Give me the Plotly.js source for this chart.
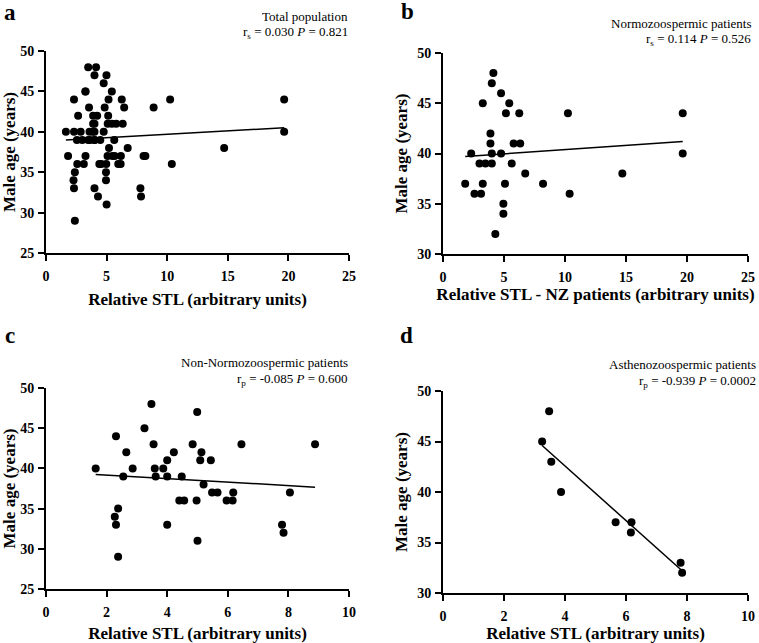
<!DOCTYPE html>
<html>
<head>
<meta charset="utf-8">
<script src="https://cdn.plot.ly/plotly-3.0.1.min.js"></script>
<style>
  body { margin: 0; padding: 0; background: white; }
  #myChart { width: 759px; height: 643px; }
</style>
</head>
<body>
<div id="myChart"></div>
<script>
// panel a - total population (values read row by row, age 48 down to 29)
var total_stl = [3.48, 4.13, 4.0, 4.99, 4.76, 3.26, 3.25, 5.43, 2.31, 5.16, 6.25, 10.24, 19.65,
  3.55, 4.84, 6.45, 8.88, 2.65, 3.89, 4.22, 5.13, 3.89, 4.0, 5.09, 5.44, 5.79, 6.33,
  1.64, 2.31, 2.86, 3.59, 3.87, 4.0, 4.76, 19.65, 2.55, 2.99, 3.48, 3.62, 4.0, 4.0, 4.48, 5.63,
  5.2, 6.74, 14.7, 1.82, 3.26, 5.08, 5.48, 5.66, 6.18, 8.05, 8.2,
  2.58, 3.12, 4.4, 4.56, 4.97, 5.96, 6.16, 10.38, 2.38, 4.95, 2.27, 4.95, 2.31, 4.0, 7.79, 4.29, 7.84, 5.0, 2.38];
var total_age = [48, 48, 47, 47, 46, 45, 45, 45, 44, 44, 44, 44, 44,
  43, 43, 43, 43, 42, 42, 42, 42, 41, 41, 41, 41, 41, 41,
  40, 40, 40, 40, 40, 40, 40, 40, 39, 39, 39, 39, 39, 39, 39, 39,
  38, 38, 38, 37, 37, 37, 37, 37, 37, 37, 37,
  36, 36, 36, 36, 36, 36, 36, 36, 35, 35, 34, 34, 33, 33, 33, 32, 32, 31, 29];

// panel b - normozoospermic
var nz_stl = [4.13, 4.0, 4.76, 3.26, 5.43, 5.16, 6.25, 10.24, 19.65, 3.89, 3.89, 5.79, 6.33,
  2.31, 4.0, 4.76, 19.65, 2.99, 3.48, 4.0, 5.63, 6.74, 14.7, 1.82, 3.26, 5.08, 8.2,
  2.58, 3.12, 10.38, 4.95, 4.95, 4.29];
var nz_age = [48, 47, 46, 45, 45, 44, 44, 44, 44, 42, 41, 41, 41,
  40, 40, 40, 40, 39, 39, 39, 39, 38, 38, 37, 37, 37, 37,
  36, 36, 36, 35, 34, 32];

// panel c - non-normozoospermic
var nonnz_stl = [1.64, 2.31, 2.27, 2.31, 2.38, 2.38, 2.55, 2.65, 2.86, 3.25, 3.48, 3.55, 3.59, 3.62,
  3.87, 4.0, 4.0, 4.0, 4.22, 4.48, 4.4, 4.56, 4.84, 4.99, 4.97, 5.0, 5.13, 5.09, 5.2, 5.44,
  5.48, 5.66, 5.96, 6.18, 6.16, 6.45, 7.79, 7.84, 8.05, 8.88];
var nonnz_age = [40, 44, 34, 33, 35, 29, 39, 42, 40, 45, 48, 43, 40, 39,
  40, 41, 39, 33, 42, 39, 36, 36, 43, 47, 36, 31, 42, 41, 38, 41,
  37, 37, 36, 37, 36, 43, 33, 32, 37, 43];

// panel d - asthenozoospermic
var astheno_stl = [3.25, 3.48, 3.55, 3.87, 5.66, 6.18, 6.16, 7.79, 7.84];
var astheno_age = [45, 48, 43, 40, 37, 37, 36, 33, 32];

// regression line end points as drawn
var fit_a_x = [1.64, 19.65], fit_a_y = [39.0, 40.5];
var fit_b_x = [1.82, 19.65], fit_b_y = [39.7, 41.2];
var fit_c_x = [1.64, 8.88], fit_c_y = [39.24, 37.67];
var fit_d_x = [3.25, 7.84], fit_d_y = [44.6, 32.2];

var panel_titles = ['Total population', 'Normozoospermic patients',
  'Non-Normozoospermic patients', 'Asthenozoospermic patients'];
var panel_stats = ['r<sub>s</sub> = 0.030 <i>P</i> = 0.821', 'r<sub>s</sub> = 0.114 <i>P</i> = 0.526',
  'r<sub>p</sub> = -0.085 <i>P</i> = 0.600', 'r<sub>p</sub> = -0.939 <i>P</i> = 0.0002'];
var panel_letters = ['a', 'b', 'c', 'd'];

var serif = 'Liberation Serif';
var W = 759, H = 643;

function px_x(p) { return p / W; }
function px_y(p) { return 1 - p / H; }

function dots(x, y, xa, ya) {
  return {
    x: x, y: y, xaxis: xa, yaxis: ya,
    mode: 'markers', type: 'scatter',
    marker: { color: 'black', size: 8 },
    hoverinfo: 'x+y'
  };
}

function fitline(x, y, xa, ya) {
  return {
    x: x, y: y, xaxis: xa, yaxis: ya,
    mode: 'lines', type: 'scatter',
    line: { color: 'black', width: 1.5 },
    hoverinfo: 'skip'
  };
}

var data = [
  dots(total_stl, total_age, 'x', 'y'),
  fitline(fit_a_x, fit_a_y, 'x', 'y'),
  dots(nz_stl, nz_age, 'x2', 'y2'),
  fitline(fit_b_x, fit_b_y, 'x2', 'y2'),
  dots(nonnz_stl, nonnz_age, 'x3', 'y3'),
  fitline(fit_c_x, fit_c_y, 'x3', 'y3'),
  dots(astheno_stl, astheno_age, 'x4', 'y4'),
  fitline(fit_d_x, fit_d_y, 'x4', 'y4')
];

function axis(dom, rng, dtick, anchor, title, standoff, letter) {
  return {
    domain: dom,
    range: rng,
    dtick: dtick,
    anchor: anchor,
    showline: true,
    linecolor: 'black',
    linewidth: 2,
    ticks: 'outside',
    ticklen: 6,
    tickwidth: 2,
    tickcolor: 'black',
    // bold tick numbers like the GraphPad original
    tickprefix: '<b>',
    ticksuffix: '</b>',
    ticklabelstandoff: letter == 'x' ? 3 : 1,
    showgrid: false,
    zeroline: false,
    fixedrange: true,
    tickfont: { family: serif, size: 14, weight: 700, color: 'black' },
    title: { text: title, standoff: standoff,
      font: { family: serif, size: 17, weight: 700, color: 'black' } }
  };
}

var xa_dom = [px_x(46), px_x(349)];
var xb_dom = [px_x(443), px_x(748)];

var layout = {
  width: W,
  height: H,
  margin: { l: 0, r: 0, t: 0, b: 0 },
  paper_bgcolor: 'white',
  plot_bgcolor: 'white',
  showlegend: false,
  xaxis: axis(xa_dom, [0, 25], 5, 'y', 'Relative STL (arbitrary units)', 10, 'x'),
  yaxis: axis([px_y(253), px_y(51)], [25, 50], 5, 'x', 'Male age (years)', 5, 'y'),
  xaxis2: axis(xb_dom, [0, 25], 5, 'y2', 'Relative STL - NZ patients (arbitrary units)', 4, 'x'),
  yaxis2: axis([px_y(254), px_y(53)], [30, 50], 5, 'x2', 'Male age (years)', 5, 'y'),
  xaxis3: axis(xa_dom, [0, 10], 2, 'y3', 'Relative STL (arbitrary units)', 10, 'x'),
  yaxis3: axis([px_y(589), px_y(388)], [25, 50], 5, 'x3', 'Male age (years)', 5, 'y'),
  xaxis4: axis(xb_dom, [0, 10], 2, 'y4', 'Relative STL (arbitrary units)', 6, 'x'),
  yaxis4: axis([px_y(593), px_y(391)], [30, 50], 5, 'x4', 'Male age (years)', 5, 'y'),
  annotations: []
};

// panel letters, group names and statistics
var letter_pos = [[10, 12], [407, 11], [10, 335], [406, 335]];
var text_right = [350, 753, 350, 758];
var title_y = [16, 23, 362, 364];
var stat_y = [33, 40, 379, 381];

for (var i = 0; i < 4; i++) {
  layout.annotations.push({
    xref: 'paper', yref: 'paper',
    x: px_x(letter_pos[i][0]), y: px_y(letter_pos[i][1]),
    xanchor: 'center', yanchor: 'middle',
    text: '<b>' + panel_letters[i] + '</b>',
    showarrow: false,
    font: { family: serif, size: 23, color: 'black' }
  });
  layout.annotations.push({
    xref: 'paper', yref: 'paper',
    x: px_x(text_right[i]), y: px_y(title_y[i]),
    xanchor: 'right', yanchor: 'middle',
    text: panel_titles[i],
    showarrow: false,
    font: { family: serif, size: 13, color: 'black' }
  });
  layout.annotations.push({
    xref: 'paper', yref: 'paper',
    x: px_x(text_right[i]), y: px_y(stat_y[i]),
    xanchor: 'right', yanchor: 'middle',
    text: panel_stats[i],
    showarrow: false,
    font: { family: serif, size: 13, color: 'black' }
  });
}

Plotly.newPlot('myChart', data, layout, { displayModeBar: false, staticPlot: true });
</script>
</body>
</html>
